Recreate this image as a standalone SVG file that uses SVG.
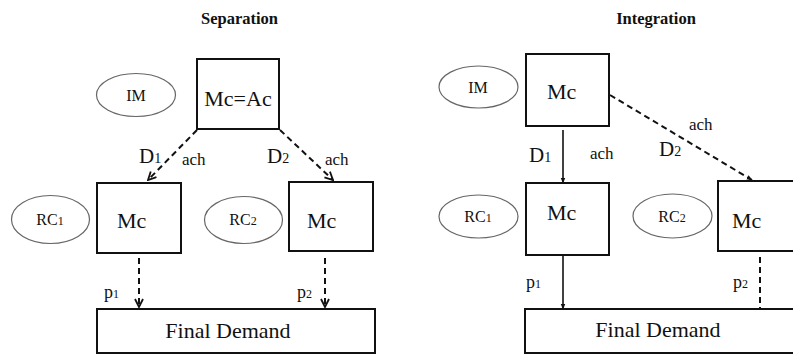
<svg xmlns="http://www.w3.org/2000/svg" width="793" height="354" viewBox="0 0 793 354" font-family="'Liberation Serif', 'Times New Roman', serif">
<defs>
<style>
text{font-family:"Liberation Serif","Times New Roman",serif;fill:#111}
.title{font-size:16.5px;font-weight:bold}
.box{fill:#fff;stroke:#111;stroke-width:2}
.ell{fill:#fff;stroke:#666;stroke-width:1.2}
.big{font-size:22px}
.lab{font-size:16px}
.pl{font-size:18px}
.sm{font-size:12px}
.d{font-size:21px}
.ach{font-size:17px}
.dash{fill:none;stroke:#111;stroke-width:2;stroke-dasharray:6 4}
.solid{fill:none;stroke:#111;stroke-width:1.6}
</style>
<marker id="open" viewBox="0 0 10 10" refX="9" refY="5" markerWidth="10" markerHeight="10" markerUnits="userSpaceOnUse" orient="auto">
<path d="M1,1 L9,5 L1,9" fill="none" stroke="#111" stroke-width="1.8"/>
</marker>
<marker id="fill" viewBox="0 0 10 10" refX="9" refY="5" markerWidth="6" markerHeight="6" markerUnits="userSpaceOnUse" orient="auto">
<path d="M0,1 L10,5 L0,9 Z" fill="#111"/>
</marker>
</defs>
<rect width="793" height="354" fill="#fff"/>
<text class="title" x="239.5" y="24" text-anchor="middle">Separation</text>
<text class="title" x="656" y="24" text-anchor="middle">Integration</text>

<g id="connectors">
<line class="dash" x1="197" y1="130" x2="148" y2="180" marker-end="url(#open)"/>
<line class="dash" x1="280" y1="130" x2="333" y2="180" marker-end="url(#open)"/>
<line class="dash" x1="139" y1="258" x2="139" y2="307" marker-end="url(#open)"/>
<line class="dash" x1="325" y1="258" x2="325" y2="307" marker-end="url(#open)"/>
<line class="solid" x1="563" y1="130" x2="563" y2="183" marker-end="url(#fill)"/>
<line class="dash" x1="610" y1="95" x2="752" y2="180" marker-end="url(#fill)"/>
<line class="solid" x1="563" y1="255" x2="563" y2="309" marker-end="url(#fill)"/>
<line class="dash" x1="760" y1="257" x2="760" y2="309"/>
<text class="d" x="139" y="163">D<tspan font-size="14">1</tspan></text>
<text class="ach" x="182" y="165">ach</text>
<text class="d" x="267" y="163">D<tspan font-size="14">2</tspan></text>
<text class="ach" x="325" y="165">ach</text>
<text class="pl" x="104" y="298">p<tspan class="sm">1</tspan></text>
<text class="pl" x="297" y="298">p<tspan class="sm">2</tspan></text>
<text class="d" x="529" y="162">D<tspan font-size="14">1</tspan></text>
<text class="ach" x="590" y="159">ach</text>
<text class="d" x="659" y="156">D<tspan font-size="14">2</tspan></text>
<text class="ach" x="689" y="130">ach</text>
<text class="pl" x="526" y="288">p<tspan class="sm">1</tspan></text>
<text class="pl" x="733" y="288">p<tspan class="sm">2</tspan></text>
</g>

<g id="sep-im">
<ellipse class="ell" cx="136" cy="95" rx="39.5" ry="21.5"/>
<text class="lab" x="136" y="101" text-anchor="middle">IM</text>
</g>
<g id="sep-top">
<rect class="box" x="197" y="59" width="82" height="70"/>
<text class="big" x="238" y="106" text-anchor="middle">Mc=Ac</text>
</g>
<g id="sep-rc1">
<ellipse class="ell" cx="50.5" cy="219.5" rx="39" ry="24"/>
<text class="lab" x="50" y="225" text-anchor="middle">RC<tspan class="sm">1</tspan></text>
</g>
<g id="sep-mc1">
<rect class="box" x="97" y="183" width="84" height="70"/>
<text class="big" x="117" y="228">Mc</text>
</g>
<g id="sep-rc2">
<ellipse class="ell" cx="243.5" cy="220" rx="39" ry="23.5"/>
<text class="lab" x="243" y="225" text-anchor="middle">RC<tspan class="sm">2</tspan></text>
</g>
<g id="sep-mc2">
<rect class="box" x="289" y="182" width="84" height="69"/>
<text class="big" x="307" y="228">Mc</text>
</g>
<g id="sep-fd">
<rect class="box" x="97" y="309" width="278" height="44"/>
<text class="big" x="228" y="338" text-anchor="middle">Final Demand</text>
</g>

<g id="int-im">
<ellipse class="ell" cx="478.5" cy="87" rx="39.5" ry="21"/>
<text class="lab" x="478" y="93" text-anchor="middle">IM</text>
</g>
<g id="int-top">
<rect class="box" x="526" y="54" width="83" height="72"/>
<text class="big" x="547" y="99">Mc</text>
</g>
<g id="int-rc1">
<ellipse class="ell" cx="478.5" cy="216.5" rx="39.5" ry="21.5"/>
<text class="lab" x="478" y="222" text-anchor="middle">RC<tspan class="sm">1</tspan></text>
</g>
<g id="int-mc1">
<rect class="box" x="526" y="183" width="83" height="72"/>
<text class="big" x="547" y="220">Mc</text>
</g>
<g id="int-rc2">
<ellipse class="ell" cx="672.5" cy="216" rx="39.5" ry="22"/>
<text class="lab" x="672" y="222" text-anchor="middle">RC<tspan class="sm">2</tspan></text>
</g>
<g id="int-mc2">
<rect class="box" x="718" y="181" width="90" height="70"/>
<text class="big" x="732" y="228">Mc</text>
</g>
<g id="int-fd">
<rect class="box" x="525" y="309" width="283" height="44"/>
<text class="big" x="658" y="337" text-anchor="middle">Final Demand</text>
</g>
</svg>
